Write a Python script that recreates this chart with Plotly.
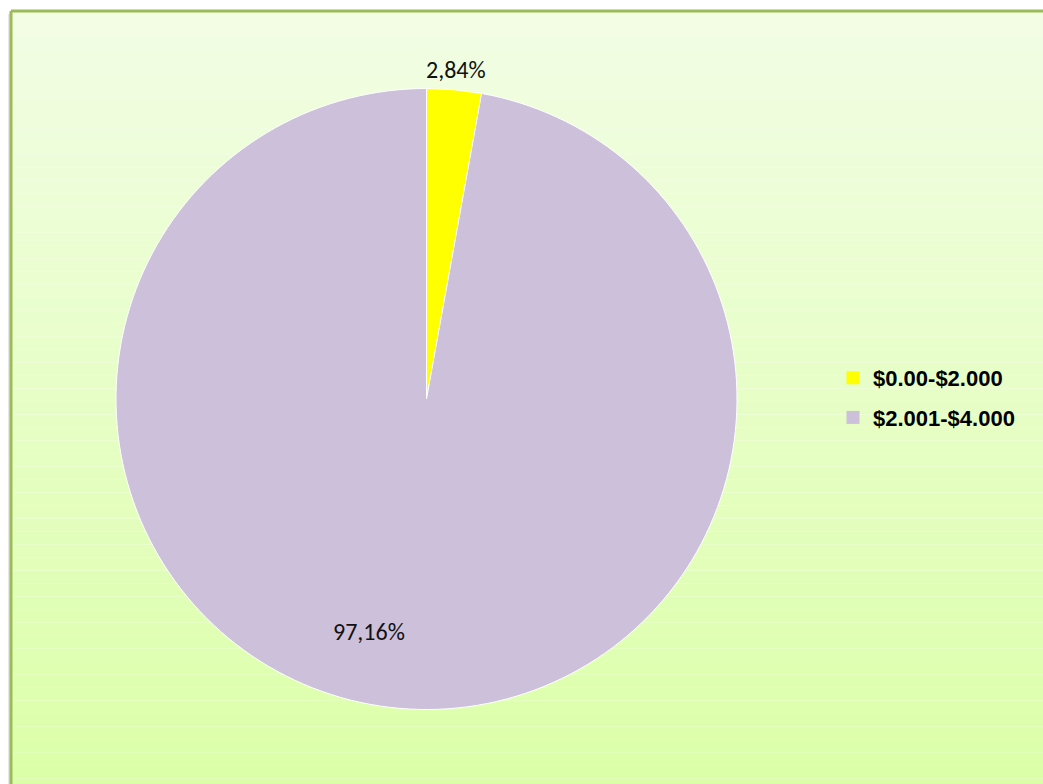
import math
import plotly.graph_objects as go

categories = ["$0.00-$2.000", "$2.001-$4.000"]
values = [2.84, 97.16]
label_text = ["2,84%", "97,16%"]
colors = ["#FFFF00", "#CCC0DA"]

W, H = 1043, 784

# pie placement (pixels)
cx_px, cy_px, r_px = 426.5, 399, 310.5
dom_x = [(cx_px - r_px) / W, (cx_px + r_px) / W]
dom_y = [(H - cy_px - r_px) / H, (H - cy_px + r_px) / H]

fig = go.Figure()

fig.add_trace(go.Pie(
    labels=categories,
    values=values,
    textinfo="none",
    marker=dict(colors=colors, line=dict(color="#FFFFFF", width=1)),
    sort=False,
    direction="clockwise",
    rotation=0,
    domain=dict(x=dom_x, y=dom_y),
    showlegend=False,
    hoverinfo="label+percent",
))

# legend entries (square markers) via empty traces so the item spacing can be set
for i, (cat, col) in enumerate(zip(categories, colors)):
    fig.add_trace(go.Scatter(
        x=[None], y=[None], mode="markers", name=cat,
        marker=dict(symbol="square", size=13, color=col),
        legendgroup="g%d" % i, showlegend=True, hoverinfo="skip",
    ))

# data labels placed from slice angles
label_style = [dict(rfac=1.065, dang=0.0), dict(rfac=0.77, dang=8.8)]
font_lbl = dict(family="Carlito, Lato, Liberation Sans, sans-serif", size=24, color="#111111")
annotations = []
total = sum(values)
cum = 0.0
for v, txt, st in zip(values, label_text, label_style):
    mid = (cum + v / 2) / total * 360 + st["dang"]
    cum += v
    r = r_px * st["rfac"]
    px = cx_px + r * math.sin(math.radians(mid))
    py = cy_px - r * math.cos(math.radians(mid))
    annotations.append(dict(x=px / W, y=1 - py / H, xref="paper", yref="paper",
                            text=txt, showarrow=False, font=font_lbl,
                            xanchor="center", yanchor="middle"))

# background gradient bands + frame
shapes = []
n = 60
top = (242, 253, 228)
bot = (219, 255, 168)
x0, y0 = 11 / W, 1 - 11 / H
for i in range(n):
    t = i / (n - 1)
    c = tuple(round(top[k] + (bot[k] - top[k]) * t) for k in range(3))
    ya = y0 - (y0 + 0.01) * i / n
    yb = y0 - (y0 + 0.01) * (i + 1) / n
    shapes.append(dict(type="rect", xref="paper", yref="paper", x0=x0, x1=1.01,
                       y0=yb, y1=ya, fillcolor="rgb(%d,%d,%d)" % c,
                       line=dict(width=0), layer="below"))
shapes.append(dict(type="rect", xref="paper", yref="paper", x0=x0 - 3 / W, x1=x0,
                   y0=-0.01, y1=y0 - 3 / H, fillcolor="#E6E6E6", line=dict(width=0), layer="below"))
shapes.append(dict(type="line", xref="paper", yref="paper", x0=x0, x1=1.01, y0=y0, y1=y0,
                   line=dict(color="#9BBB59", width=3), layer="below"))
shapes.append(dict(type="line", xref="paper", yref="paper", x0=x0, x1=x0, y0=-0.01, y1=y0,
                   line=dict(color="#9BBB59", width=3), layer="below"))

fig.update_layout(
    width=W, height=H,
    margin=dict(l=0, r=0, t=0, b=0),
    paper_bgcolor="#FFFFFF",
    plot_bgcolor="rgba(0,0,0,0)",
    xaxis=dict(visible=False), yaxis=dict(visible=False),
    shapes=shapes,
    annotations=annotations,
    legend=dict(
        x=833 / W, y=1 - 357 / H, xanchor="left", yanchor="top",
        font=dict(family="Liberation Sans, Arial, sans-serif", size=22, color="#000000", weight="bold"),
        bgcolor="rgba(0,0,0,0)", itemwidth=30, tracegroupgap=8,
    ),
)

fig.write_html("out.html", config=dict(displayModeBar=False))
with open("out.html", "r", encoding="utf-8") as f:
    html = f.read()
html = html.replace("<head>", "<head><style>html,body{margin:0;padding:0;overflow:hidden;}</style>", 1)
with open("out.html", "w", encoding="utf-8") as f:
    f.write(html)
